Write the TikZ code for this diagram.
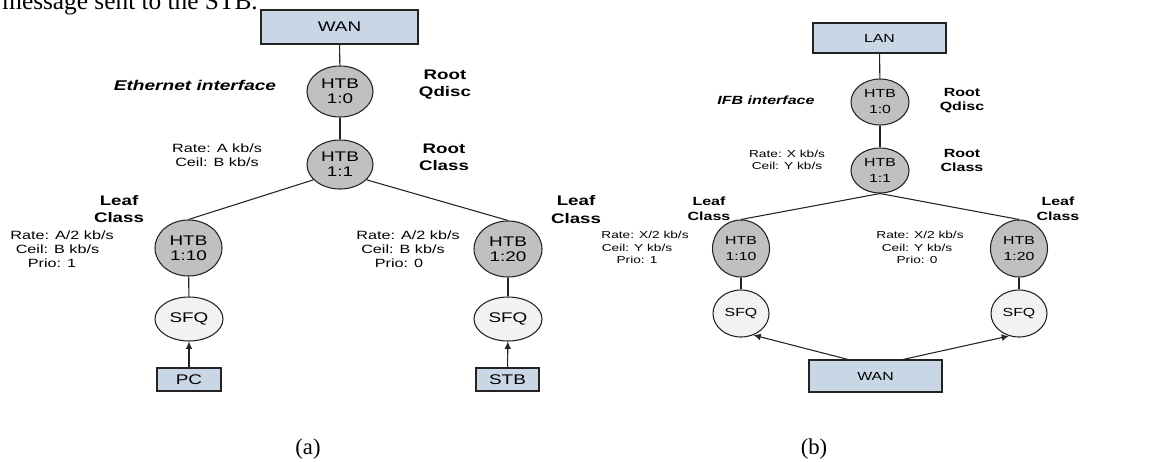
\documentclass[tikz,border=0pt]{standalone}
\usepackage{fontspec}
\newfontfamily\arialx{Liberation Sans}[FakeStretch=1.35]
\newfontfamily\timesx{Liberation Serif}
\usetikzlibrary{arrows.meta,shapes.geometric}
\definecolor{boxfill}{RGB}{201,214,229}
\definecolor{htbfill}{RGB}{192,192,192}
\definecolor{sfqfill}{RGB}{242,242,242}
\definecolor{edge}{RGB}{35,35,35}
\tikzset{
  box/.style={draw=edge, fill=boxfill, line width=0.8pt, inner sep=0pt},
  htb/.style={ellipse, draw=edge, fill=htbfill, line width=0.8pt, inner sep=0pt, align=center},
  sfq/.style={ellipse, draw=edge, fill=sfqfill, line width=0.8pt, inner sep=0pt, align=center},
  conn/.style={draw=edge, line width=0.8pt},
  arr/.style={conn, -{Latex[length=5.5pt,width=5pt]}},
  fnA/.style={font={\arialx\fontsize{10.5pt}{11.25pt}\selectfont}},
  fnB/.style={font={\arialx\fontsize{8.8pt}{12pt}\selectfont}},
  rateA/.style={font={\arialx\fontsize{9pt}{10.5pt}\selectfont}, inner sep=0pt, align=center},
  rateB/.style={font={\arialx\fontsize{7.6pt}{9.2pt}\selectfont}, inner sep=0pt, align=center},
  boldA/.style={font={\arialx\bfseries\fontsize{10.4pt}{13pt}\selectfont}, inner sep=0pt, align=center},
  boldB/.style={font={\arialx\bfseries\fontsize{8.9pt}{11pt}\selectfont}, inner sep=0pt, align=center},
  capt/.style={font={\timesx\fontsize{17pt}{20pt}\selectfont}, inner sep=0pt}
}
\begin{document}
\begin{tikzpicture}[x=0.75pt,y=-0.75pt]
\useasboundingbox (0,0) rectangle (1149,461);
\clip (0,0) rectangle (1149,461);
% clipped running text at top
\node[font={\timesx\fontsize{19pt}{22pt}\selectfont}, inner sep=0pt, anchor=base east] (toptext) at (258,9) {message sent to the STB.};

% ---------------- panel (a) ----------------
\node[box, fnA, minimum width=157*0.75pt, minimum height=34*0.75pt] (wanA) at (339.5,27) {WAN};
\node[htb, fnA, minimum width=66*0.75pt, minimum height=51*0.75pt] (p10) at (340,91.5) {HTB\\1:0};
\node[htb, fnA, minimum width=66*0.75pt, minimum height=49*0.75pt] (p11) at (340,164.5) {HTB\\1:1};
\node[htb, fnA, minimum width=67*0.75pt, minimum height=56*0.75pt] (p110) at (188.5,248) {HTB\\1:10};
\node[htb, fnA, minimum width=68*0.75pt, minimum height=56*0.75pt] (p120) at (508,249) {HTB\\1:20};
\node[sfq, fnA, minimum width=68*0.75pt, minimum height=44*0.75pt] (ps1) at (189,319) {SFQ};
\node[sfq, fnA, minimum width=68*0.75pt, minimum height=44*0.75pt] (ps2) at (508,319) {SFQ};
\node[box, fnA, minimum width=64*0.75pt, minimum height=23*0.75pt] (pc) at (189,379.5) {PC};
\node[box, fnA, minimum width=63*0.75pt, minimum height=23*0.75pt] (stb) at (507.5,379.5) {STB};

\draw[conn] (wanA) -- (p10);
\draw[conn] (p10) -- (p11);
\draw[conn] (p11.-150) -- (p110.north);
\draw[conn] (p11.-30) -- (p120.north);
\draw[conn] (p110) -- (ps1);
\draw[conn] (p120) -- (ps2);
\draw[arr] (pc) -- (ps1);
\draw[arr] (stb) -- (ps2);

\node[boldA, font={\arialx\bfseries\itshape\fontsize{10.6pt}{13pt}\selectfont}] (ethA) at (195,85) {Ethernet interface};
\node[boldA] (rqA) at (445,84.5) {Root\\Qdisc};
\node[boldA] (rcA) at (444,157) {Root\\Class};
\node[rateA] (rA) at (217,155.5) {Rate: A kb/s\\Ceil: B kb/s};
\node[boldA] (lcA1) at (119,209) {Leaf\\Class};
\node[boldA] (lcA2) at (576,209.5) {Leaf\\Class};
\node[rateA] (rA1a) at (62,235) {Rate: A/2 kb/s};
\node[rateA] (rA1b) at (57.5,249) {Ceil: B kb/s};
\node[rateA] (rA1c) at (52,263) {Prio: 1};
\node[rateA] (rA2a) at (408,235) {Rate: A/2 kb/s};
\node[rateA] (rA2b) at (403,249) {Ceil: B kb/s};
\node[rateA] (rA2c) at (399,263) {Prio: 0};
\node[capt, anchor=base] (captA) at (308,454) {(a)};

% ---------------- panel (b) ----------------
\node[box, fnB, minimum width=133*0.75pt, minimum height=30*0.75pt] (lan) at (879.5,38) {LAN};
\node[htb, fnB, minimum width=58*0.75pt, minimum height=46*0.75pt] (q10) at (880,102) {HTB\\1:0};
\node[htb, fnB, minimum width=58*0.75pt, minimum height=45*0.75pt] (q11) at (880,170.5) {HTB\\1:1};
\node[htb, fnB, minimum width=57*0.75pt, minimum height=57*0.75pt] (q110) at (741,248.5) {HTB\\1:10};
\node[htb, fnB, minimum width=57*0.75pt, minimum height=57*0.75pt] (q120) at (1019,248.5) {HTB\\1:20};
\node[sfq, fnB, minimum width=56*0.75pt, minimum height=47*0.75pt] (qs1) at (741,313.5) {SFQ};
\node[sfq, fnB, minimum width=56*0.75pt, minimum height=47*0.75pt] (qs2) at (1019,313.5) {SFQ};
\node[box, fnB, minimum width=133*0.75pt, minimum height=32*0.75pt] (wanB) at (875.5,376) {WAN};

\draw[conn] (lan) -- (q10);
\draw[conn] (q10) -- (q11);
\draw[conn] (q11.south) -- (q110.north);
\draw[conn] (q11.south) -- (q120.north);
\draw[conn] (q110) -- (qs1);
\draw[conn] (q120) -- (qs2);
\draw[arr] ([xshift=-27.5*0.75pt]wanB.north) -- (qs1.-60);
\draw[arr] ([xshift=27.5*0.75pt]wanB.north) -- (qs2.-114);

\node[boldB, font={\arialx\bfseries\itshape\fontsize{8.9pt}{11pt}\selectfont}] (ifb) at (766,100) {IFB interface};
\node[boldB] (rqB) at (962,100.5) {Root\\Qdisc};
\node[boldB] (rcB) at (962,160.5) {Root\\Class};
\node[rateB] (rB) at (787,160) {Rate: X kb/s\\Ceil: Y kb/s};
\node[boldB] (lcB1) at (709,208.5) {Leaf\\Class};
\node[boldB] (lcB2) at (1058,208.5) {Leaf\\Class};
\node[rateB] (rB1a) at (645,235) {Rate: X/2 kb/s};
\node[rateB] (rB1b) at (637,247.5) {Ceil: Y kb/s};
\node[rateB] (rB1c) at (637,260) {Prio: 1};
\node[rateB] (rB2a) at (920,235) {Rate: X/2 kb/s};
\node[rateB] (rB2b) at (917,247.5) {Ceil: Y kb/s};
\node[rateB] (rB2c) at (917,260) {Prio: 0};
\node[capt, anchor=base] (captB) at (814,454) {(b)};
\end{tikzpicture}
\end{document}
